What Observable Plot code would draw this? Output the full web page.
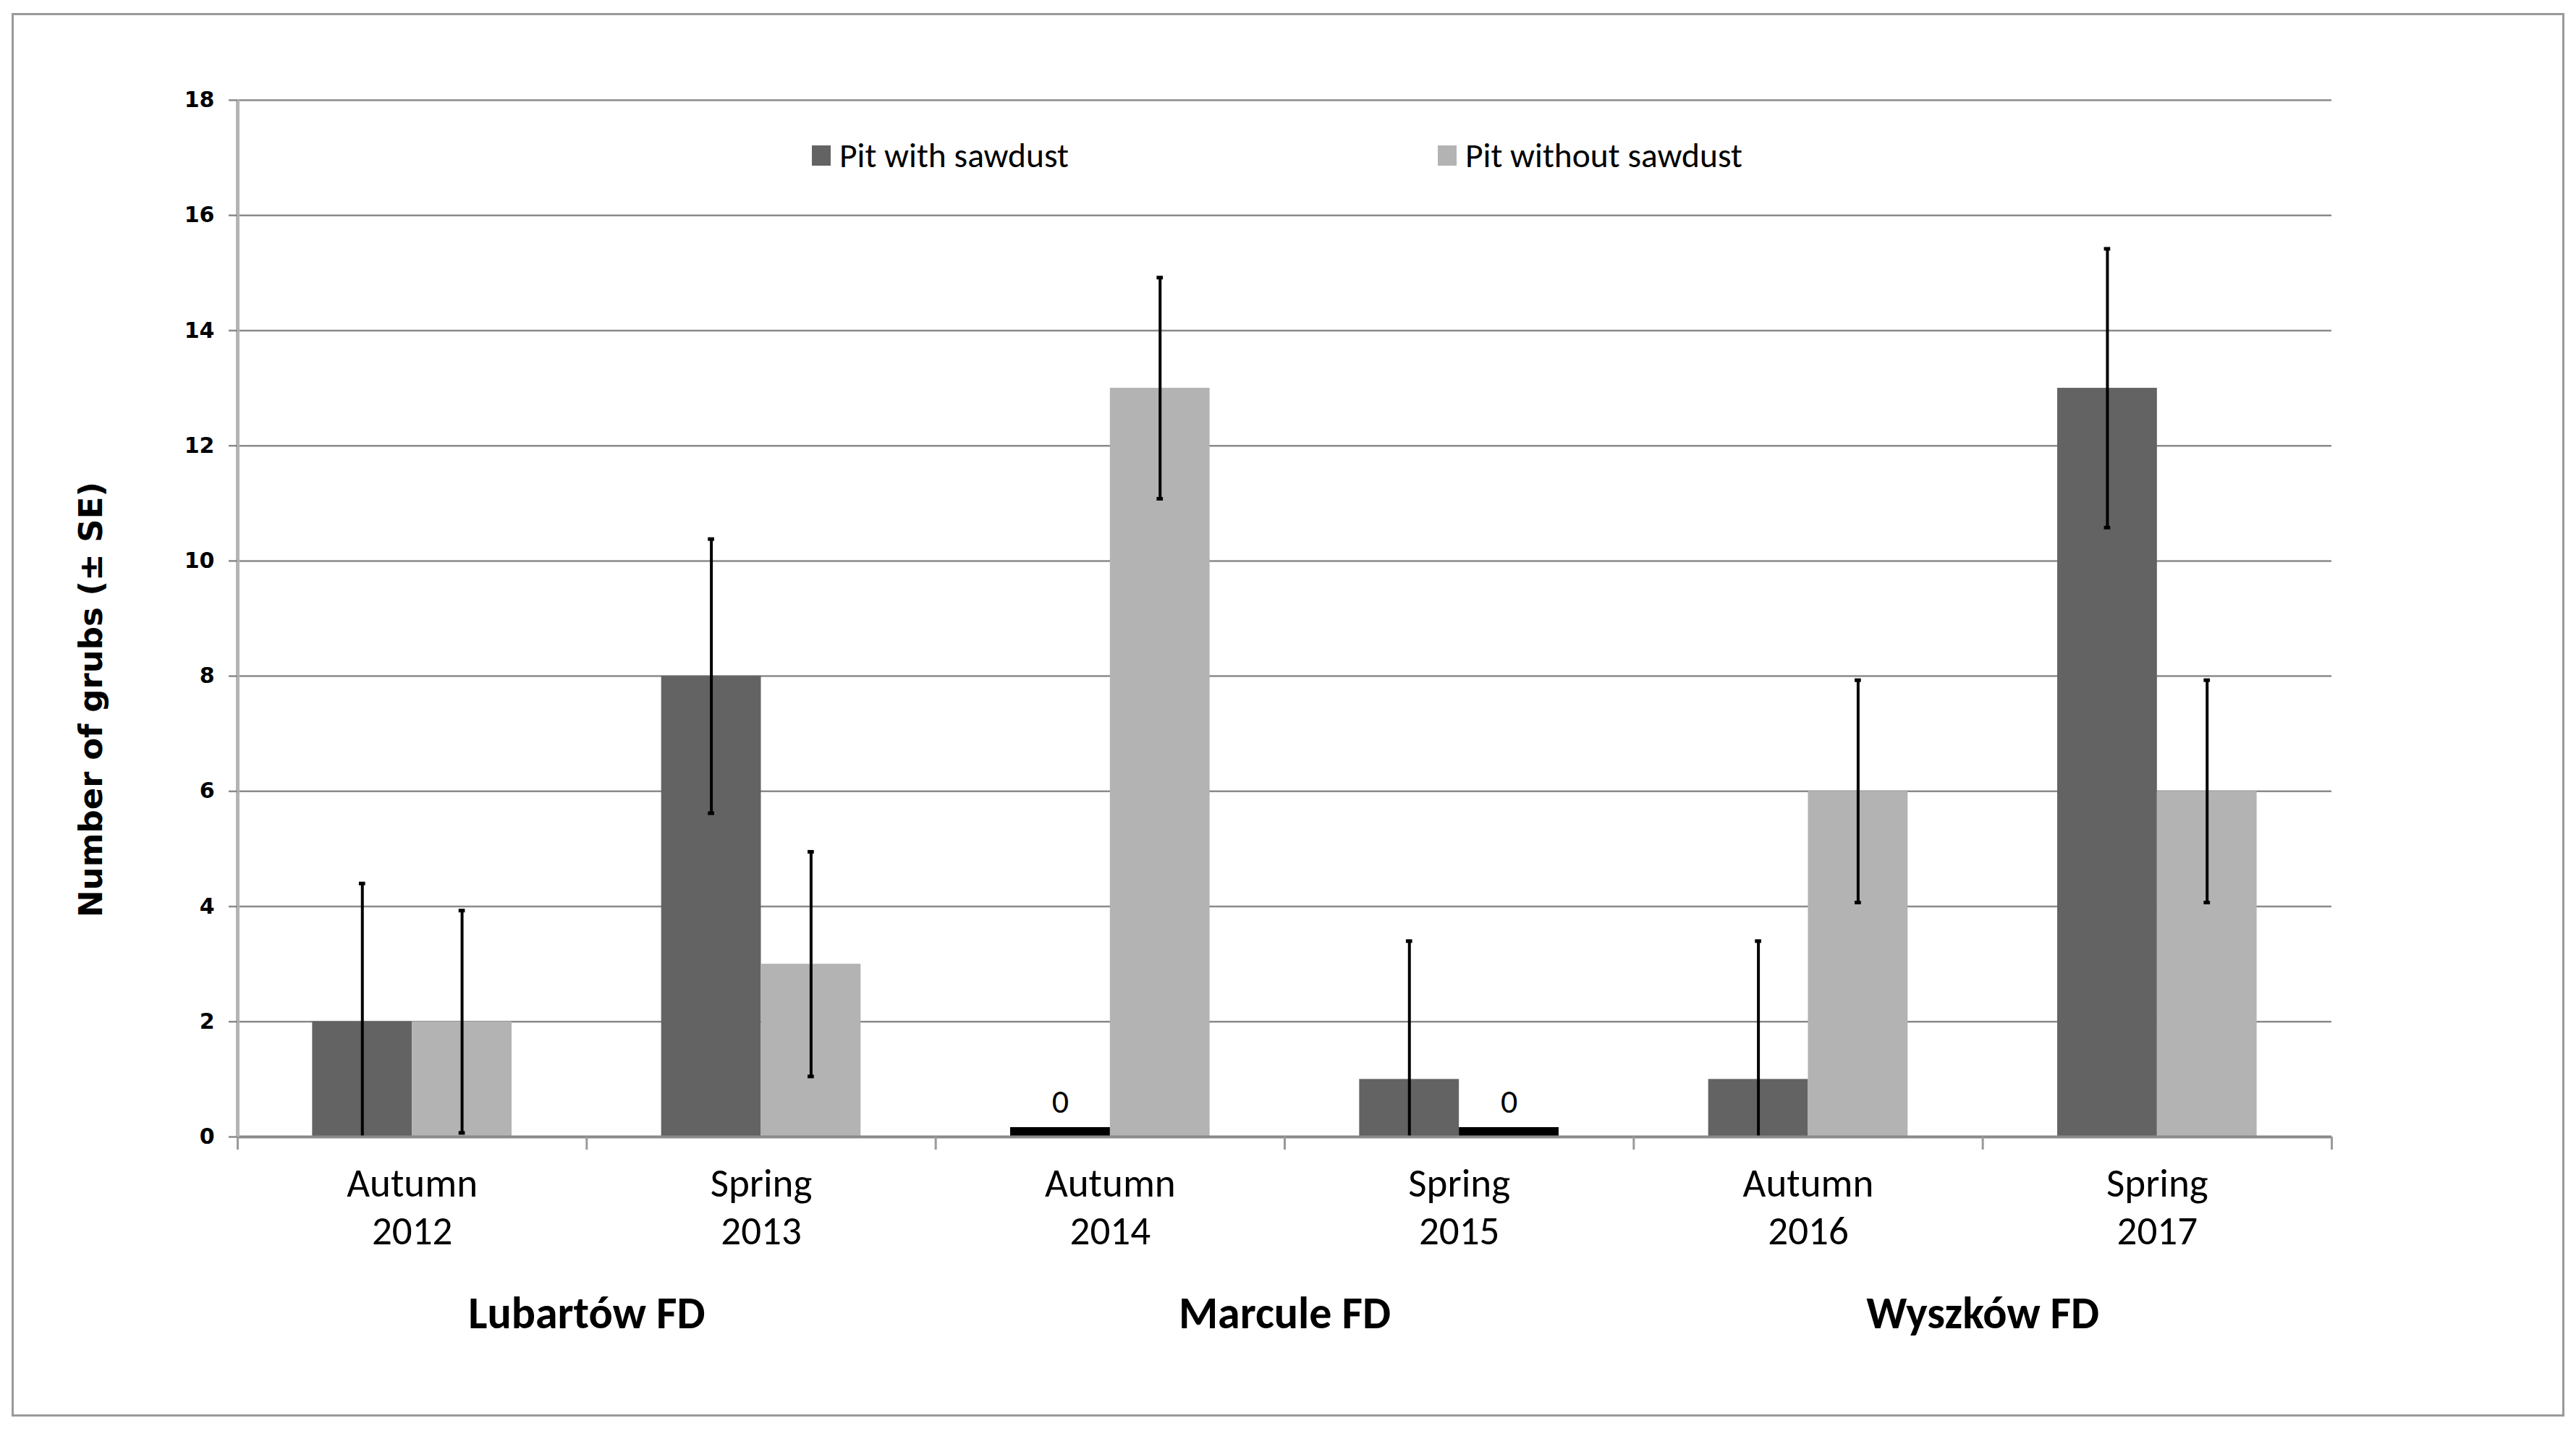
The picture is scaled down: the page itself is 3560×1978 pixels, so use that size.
<!DOCTYPE html>
<html>
<head>
<meta charset="utf-8">
<script src="https://cdn.jsdelivr.net/npm/d3@7"></script>
<script src="https://cdn.jsdelivr.net/npm/@observablehq/plot@0.6"></script>
<style>
  html, body { margin: 0; padding: 0; background: white; }
  #wrap { position: relative; width: 3560px; height: 1978px; overflow: hidden; }
  #frame { position: absolute; left: 16px; top: 18px; width: 3528px; height: 1940px; border: 3px solid #9a9a9a; box-sizing: border-box; }
  #chart { position: absolute; left: 0; top: 0; }
  #legend { position: absolute; top: 186px; left: 0; width: 3560px; height: 60px; font-family: Carlito, Lato, "Open Sans", sans-serif; font-size: 47.5px; color: #000; }
  .item { position: absolute; display: flex; align-items: center; white-space: nowrap; }
  .sw { width: 26px; height: 28px; margin-right: 12px; }
</style>
</head>
<body>
<div id="wrap">
  <div id="chart"></div>
  <div id="frame"></div>
  <div id="legend"></div>
</div>
<script>
// ---- data ----
const seasons = ["Autumn\n2012", "Spring\n2013", "Autumn\n2014", "Spring\n2015", "Autumn\n2016", "Spring\n2017"];
const forests = ["Lubartów FD", "Marcule FD", "Wyszków FD"];
const seriesNames = ["Pit with sawdust", "Pit without sawdust"];
const withSawdust = [2, 8, 0, 1, 1, 13];
const withoutSawdust = [2, 3, 13, 0, 6, 6];
const seWith = [2.4, 2.38, 0, 2.4, 2.4, 2.42];
const seWithout = [1.93, 1.95, 1.92, 0, 1.93, 1.93];
const yTicks = [0, 2, 4, 6, 8, 10, 12, 14, 16, 18];
const yTitle = "Number of grubs (± SE)";
const colors = ["#636363", "#b3b3b3"];

// ---- layout constants (Excel-like gap width 150%) ----
const W = 1 / 3.5;          // bar width in category units
const GAP = 0.75 / 3.5;     // outer gap on each side

const rows = [];
seasons.forEach((s, i) => {
  [withSawdust, withoutSawdust].forEach((arr, k) => {
    const se = (k === 0 ? seWith : seWithout)[i];
    const x1 = i + GAP + k * W;
    rows.push({i, series: seriesNames[k], value: arr[i], se, x1, x2: x1 + W, xc: x1 + W / 2});
  });
});
const nonzero = rows.filter(d => d.value > 0);
const zeros = rows.filter(d => d.value === 0);
const withErr = rows.filter(d => d.se > 0);

const calibri = "Carlito, Lato, 'Open Sans', sans-serif";
const verdana = "'DejaVu Sans', Verdana, sans-serif";

const chart = Plot.plot({
  width: 3560,
  height: 1978,
  marginLeft: 328,
  marginRight: 338,
  marginTop: 138,
  marginBottom: 407,
  style: {background: "transparent", overflow: "visible"},
  x: {type: "linear", domain: [0, seasons.length], axis: null},
  y: {domain: [0, 18], axis: null},
  color: {domain: seriesNames, range: colors},
  marks: [
    Plot.gridY(yTicks.filter(t => t > 0), {stroke: "#8a8a8a", strokeOpacity: 1, strokeWidth: 2.5}),
    Plot.rectY(nonzero, {x1: "x1", x2: "x2", y1: 0, y2: "value", fill: "series"}),
    Plot.rectY(zeros, {x1: "x1", x2: "x2", y1: "value", y2: "value", fill: "black", insetTop: -13}),
    Plot.text(zeros, {x: "xc", y: "value", text: d => String(d.value), dy: -48, fontSize: 46, fontFamily: calibri, fill: "black"}),
    Plot.ruleX(withErr, {x: "xc", y1: d => Math.max(0, d.value - d.se), y2: d => d.value + d.se, stroke: "black", strokeWidth: 4}),
    Plot.ruleY(withErr, {x1: d => d.xc - 0.009, x2: d => d.xc + 0.009, y: d => d.value + d.se, stroke: "black", strokeWidth: 5}),
    Plot.ruleY(withErr.filter(d => d.value - d.se > 0), {x1: d => d.xc - 0.009, x2: d => d.xc + 0.009, y: d => d.value - d.se, stroke: "black", strokeWidth: 5}),
    Plot.ruleY([0], {stroke: "#8a8a8a", strokeWidth: 4}),
    Plot.ruleX([0], {stroke: "#b4b4b4", strokeWidth: 5}),
    Plot.axisY({ticks: yTicks, tickSize: 12, tickPadding: 20, label: null, fontSize: 30, fontWeight: "bold", fontFamily: verdana, stroke: "#8a8a8a", strokeWidth: 2.5, color: "black"}),
    Plot.axisX({ticks: d3.range(seasons.length + 1), tickFormat: () => "", tickSize: 18, stroke: "#9a9a9a", strokeWidth: 3, label: null}),
    Plot.text(seasons, {x: (d, i) => i + 0.5, frameAnchor: "bottom", dy: 36, lineAnchor: "top", lineHeight: 1.2, fontSize: 55, fontFamily: calibri, fill: "black"}),
    Plot.text(forests, {x: (d, i) => 2 * i + 1, frameAnchor: "bottom", dy: 220, lineAnchor: "top", fontSize: 62, fontWeight: "bold", fontFamily: calibri, fill: "black"}),
    Plot.text([yTitle], {frameAnchor: "left", textAnchor: "middle", rotate: -90, dx: -202, dy: 112, fontSize: 45, fontWeight: "bold", fontFamily: verdana, fill: "black"})
  ]
});
document.getElementById("chart").appendChild(chart);

// legend (inside plot area at top, as in the reference)
const legend = document.getElementById("legend");
const legendLeft = [1122, 1987];
seriesNames.forEach((name, k) => {
  const it = document.createElement("div");
  it.className = "item";
  it.style.left = legendLeft[k] + "px";
  const sw = document.createElement("div");
  sw.className = "sw";
  sw.style.background = colors[k];
  const tx = document.createElement("span");
  tx.textContent = name;
  it.appendChild(sw);
  it.appendChild(tx);
  legend.appendChild(it);
});
</script>
</body>
</html>
